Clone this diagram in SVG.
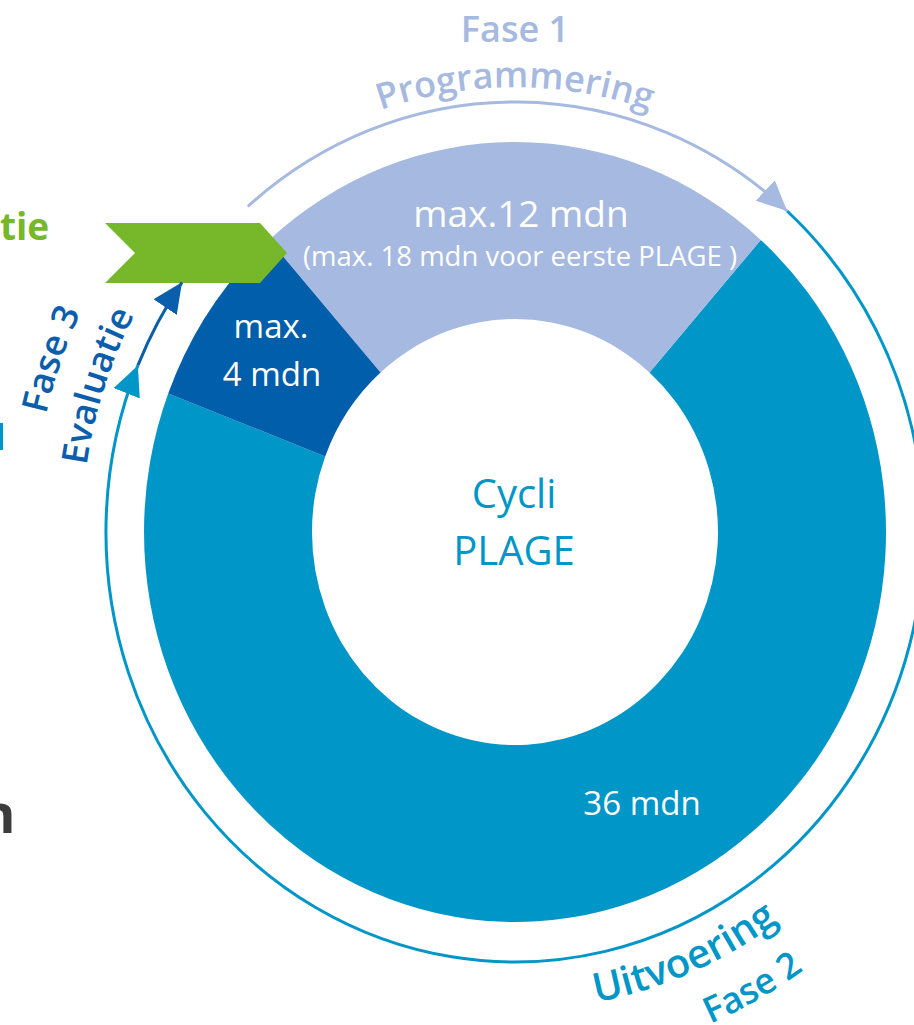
<svg xmlns="http://www.w3.org/2000/svg" xmlns:xlink="http://www.w3.org/1999/xlink" width="914" height="1025" viewBox="0 0 914 1025">
  <style>
    text { font-family: "Open Sans", "Liberation Sans", sans-serif; }
    .seg-label { fill: #ffffff; text-anchor: middle; }
    .phase { font-weight: 600; font-size: 36px; }
    .ring { fill: none; stroke-width: 3; }
  </style>
  <defs>
    <marker id="arrLight" markerUnits="userSpaceOnUse" markerWidth="30" markerHeight="28" refX="30" refY="14" orient="auto">
      <path d="M0,0 L30,14 L0,28 Z" fill="#a6b9e0"/>
    </marker>
    <marker id="arrTeal" markerUnits="userSpaceOnUse" markerWidth="30" markerHeight="28" refX="30" refY="14" orient="auto">
      <path d="M0,0 L30,14 L0,28 Z" fill="#0096c8"/>
    </marker>
    <marker id="arrDark" markerUnits="userSpaceOnUse" markerWidth="30" markerHeight="28" refX="30" refY="14" orient="auto">
      <path d="M0,0 L30,14 L0,28 Z" fill="#0a5eab"/>
    </marker>
    <path id="pProg" d="M302.5,146.9 A425,445 0 0 1 727.5,146.9"/>
    <path id="pEval" d="M84.7,582.7 A433,455 0 0 1 201.4,218.2"/>
    <path id="pFase3" d="M35.1,578.8 A482,507 0 0 1 172.4,175.4"/>
    <path id="pUit" d="M496.7,1009.6 A455,478 0 0 0 851.5,853.7"/>
    <path id="pFase2" d="M545.9,1064.0 A507,533 0 0 0 922.6,849.0"/>
  </defs>

  <g id="seg-execution">
    <path d="M760.8,239.9 A371,390 0 1 1 168.2,393.5 L325.2,456.4 A203,213 0 1 0 649.5,372.5 Z" fill="#0096c8"/>
    <text class="seg-label" x="642" y="815" font-size="33">36 mdn</text>
  </g>
  <g id="seg-programming">
    <path d="M269.2,239.9 A371,390 0 0 1 760.8,239.9 L649.5,372.5 A203,213 0 0 0 380.5,372.5 Z" fill="#a6b9e0"/>
    <text class="seg-label" x="521" y="227" font-size="37">max.12 mdn</text>
    <text class="seg-label" x="520" y="266" font-size="27.5">(max. 18 mdn voor eerste PLAGE )</text>
  </g>
  <g id="seg-evaluation">
    <path d="M168.2,393.5 A371,390 0 0 1 269.2,239.9 L380.5,372.5 A203,213 0 0 0 325.2,456.4 Z" fill="#005eaa"/>
    <text class="seg-label" x="271" y="338" font-size="33">max.</text>
    <text class="seg-label" x="272" y="386" font-size="33">4 mdn</text>
  </g>
  <g id="center-label">
    <text x="514" y="508" font-size="40" fill="#0096c8" text-anchor="middle">Cycli</text>
    <text x="514" y="565" font-size="40" fill="#0096c8" text-anchor="middle">PLAGE</text>
  </g>

  <g id="flag">
    <polygon points="105,223 260,223 287,253 260,283 105,283 135,253" fill="#76b82a"/>
  </g>

  <g id="connectors">
    <path class="ring" d="M787.1,211.0 A409,430 0 1 1 137.9,365.4" stroke="#0096c8" marker-end="url(#arrTeal)"/>
    <path class="ring" d="M247.8,206.5 A409,430 0 0 1 787.1,211.0" stroke="#a6b9e0" stroke-width="2.5" marker-end="url(#arrLight)"/>
    <path class="ring" d="M137.9,365.4 A409,430 0 0 1 182.0,282.3" stroke="#0a5eab" marker-end="url(#arrDark)"/>
  </g>

  <g id="phase1-label">
    <text class="phase" x="515" y="42" fill="#a6b9e0" text-anchor="middle">Fase 1</text>
    <text class="phase" fill="#a6b9e0" text-anchor="middle"><textPath xlink:href="#pProg" startOffset="50%">Programmering</textPath></text>
  </g>
  <g id="phase3-label">
    <text class="phase" fill="#0a5eab" text-anchor="middle"><textPath xlink:href="#pFase3" startOffset="50%">Fase 3</textPath></text>
    <text class="phase" fill="#0a5eab" text-anchor="middle"><textPath xlink:href="#pEval" startOffset="50%">Evaluatie</textPath></text>
  </g>
  <g id="phase2-label">
    <text class="phase" fill="#0096c8" text-anchor="middle" style="font-size:40px"><textPath xlink:href="#pUit" startOffset="50%">Uitvoering</textPath></text>
    <text class="phase" fill="#0096c8" text-anchor="middle"><textPath xlink:href="#pFase2" startOffset="50%">Fase 2</textPath></text>
  </g>

  <g id="edge-fragments">
    <text x="0" y="240" font-size="37" font-weight="700" fill="#76b82a">tie</text>
    <rect x="0" y="423" width="3" height="27" fill="#0096c8"/>
    <text x="-20" y="833" font-size="54" font-weight="700" fill="#3c3c3c">n</text>
  </g>
</svg>
